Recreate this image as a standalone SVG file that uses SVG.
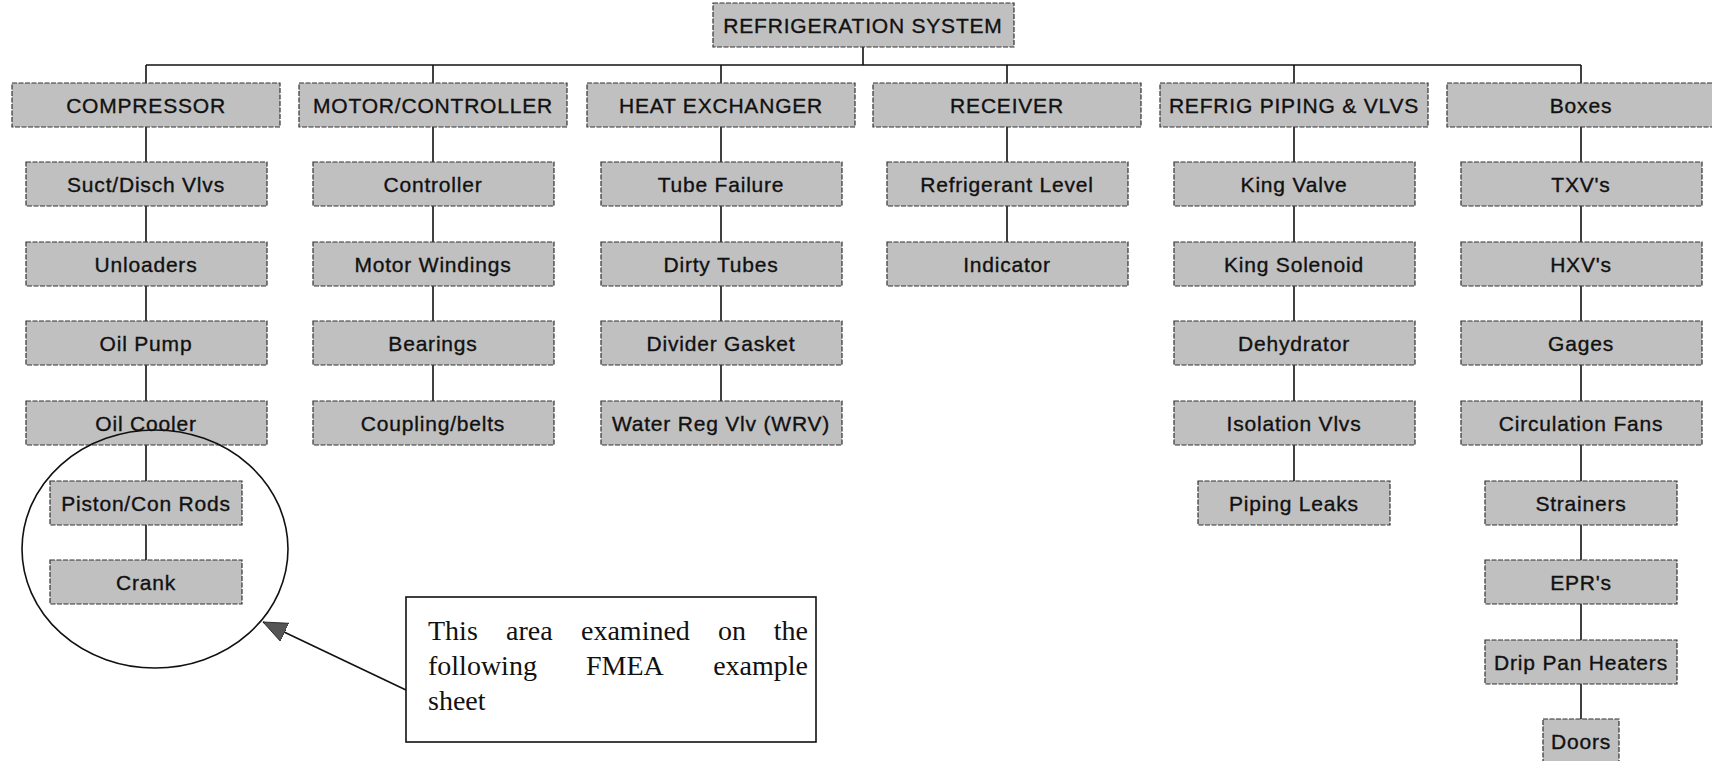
<svg xmlns="http://www.w3.org/2000/svg" width="1712" height="761" viewBox="0 0 1712 761">
  <defs>
    <style>
      .box { fill: #c0c0c0; stroke: #333; stroke-width: 1.2; stroke-dasharray: 5 1.5; }
      .lbl { font-family: "Liberation Sans", Arial, sans-serif; font-size: 21px; letter-spacing: 0.8px; fill: #111; stroke: #111; stroke-width: 0.35; text-anchor: middle; }
      .wire { stroke: #111; stroke-width: 1.6; fill: none; }
      .note { font-family: "Liberation Serif", "Times New Roman", serif; font-size: 28px; fill: #111; }
      .end { text-anchor: end; }
    </style>
    <marker id="tri" markerUnits="userSpaceOnUse" markerWidth="26" markerHeight="22" refX="24" refY="10" orient="auto">
      <path d="M0,0 L24,10 L0,20 Z" fill="#555" stroke="#222" stroke-width="0.8"/>
    </marker>
  </defs>
  <rect width="1712" height="761" fill="#fff"/>

  <!-- tree connectors -->
  <g id="connectors" class="wire">
    <line x1="863" y1="47" x2="863" y2="65"/>
    <line x1="146" y1="65" x2="1581" y2="65"/>
    <line x1="146" y1="65" x2="146" y2="83"/>
    <line x1="433" y1="65" x2="433" y2="83"/>
    <line x1="721" y1="65" x2="721" y2="83"/>
    <line x1="1007" y1="65" x2="1007" y2="83"/>
    <line x1="1294" y1="65" x2="1294" y2="83"/>
    <line x1="1581" y1="65" x2="1581" y2="83"/>
    <!-- compressor column -->
    <line x1="146" y1="127" x2="146" y2="481"/>
    <line x1="146" y1="525" x2="146" y2="560"/>
    <!-- motor column -->
    <line x1="433" y1="127" x2="433" y2="401"/>
    <!-- heat exchanger column -->
    <line x1="721" y1="127" x2="721" y2="401"/>
    <!-- receiver column -->
    <line x1="1007" y1="127" x2="1007" y2="242"/>
    <!-- piping column -->
    <line x1="1294" y1="127" x2="1294" y2="481"/>
    <!-- boxes column -->
    <line x1="1581" y1="127" x2="1581" y2="719"/>
  </g>

  <!-- root -->
  <g id="n-root">
    <rect class="box" x="713" y="3" width="301" height="44"/>
    <text class="lbl" x="863" y="32.5">REFRIGERATION SYSTEM</text>
  </g>

  <!-- level 1 -->
  <g id="n-compressor"><rect class="box" x="12" y="83" width="268" height="44"/><text class="lbl" x="146" y="112.5">COMPRESSOR</text></g>
  <g id="n-motor"><rect class="box" x="299" y="83" width="268" height="44"/><text class="lbl" x="433" y="112.5">MOTOR/CONTROLLER</text></g>
  <g id="n-heat"><rect class="box" x="587" y="83" width="268" height="44"/><text class="lbl" x="721" y="112.5">HEAT EXCHANGER</text></g>
  <g id="n-receiver"><rect class="box" x="873" y="83" width="268" height="44"/><text class="lbl" x="1007" y="112.5">RECEIVER</text></g>
  <g id="n-piping"><rect class="box" x="1160" y="83" width="268" height="44"/><text class="lbl" x="1294" y="112.5">REFRIG PIPING &amp; VLVS</text></g>
  <g id="n-boxes"><rect class="box" x="1447" y="83" width="268" height="44"/><text class="lbl" x="1581" y="112.5">Boxes</text></g>

  <!-- compressor items -->
  <g id="n-suct"><rect class="box" x="26" y="162" width="241" height="44"/><text class="lbl" x="146" y="191.5">Suct/Disch Vlvs</text></g>
  <g id="n-unloaders"><rect class="box" x="26" y="242" width="241" height="44"/><text class="lbl" x="146" y="271.5">Unloaders</text></g>
  <g id="n-oilpump"><rect class="box" x="26" y="321" width="241" height="44"/><text class="lbl" x="146" y="350.5">Oil Pump</text></g>
  <g id="n-oilcooler"><rect class="box" x="26" y="401" width="241" height="44"/><text class="lbl" x="146" y="430.5">Oil Cooler</text></g>
  <g id="n-piston"><rect class="box" x="50" y="481" width="192" height="44"/><text class="lbl" x="146" y="510.5">Piston/Con Rods</text></g>
  <g id="n-crank"><rect class="box" x="50" y="560" width="192" height="44"/><text class="lbl" x="146" y="589.5">Crank</text></g>

  <!-- motor items -->
  <g id="n-controller"><rect class="box" x="313" y="162" width="241" height="44"/><text class="lbl" x="433" y="191.5">Controller</text></g>
  <g id="n-windings"><rect class="box" x="313" y="242" width="241" height="44"/><text class="lbl" x="433" y="271.5">Motor Windings</text></g>
  <g id="n-bearings"><rect class="box" x="313" y="321" width="241" height="44"/><text class="lbl" x="433" y="350.5">Bearings</text></g>
  <g id="n-coupling"><rect class="box" x="313" y="401" width="241" height="44"/><text class="lbl" x="433" y="430.5">Coupling/belts</text></g>

  <!-- heat exchanger items -->
  <g id="n-tube"><rect class="box" x="601" y="162" width="241" height="44"/><text class="lbl" x="721" y="191.5">Tube Failure</text></g>
  <g id="n-dirty"><rect class="box" x="601" y="242" width="241" height="44"/><text class="lbl" x="721" y="271.5">Dirty Tubes</text></g>
  <g id="n-gasket"><rect class="box" x="601" y="321" width="241" height="44"/><text class="lbl" x="721" y="350.5">Divider Gasket</text></g>
  <g id="n-wrv"><rect class="box" x="601" y="401" width="241" height="44"/><text class="lbl" x="721" y="430.5">Water Reg Vlv (WRV)</text></g>

  <!-- receiver items -->
  <g id="n-level"><rect class="box" x="887" y="162" width="241" height="44"/><text class="lbl" x="1007" y="191.5">Refrigerant Level</text></g>
  <g id="n-indicator"><rect class="box" x="887" y="242" width="241" height="44"/><text class="lbl" x="1007" y="271.5">Indicator</text></g>

  <!-- piping items -->
  <g id="n-kingvalve"><rect class="box" x="1174" y="162" width="241" height="44"/><text class="lbl" x="1294" y="191.5">King Valve</text></g>
  <g id="n-kingsol"><rect class="box" x="1174" y="242" width="241" height="44"/><text class="lbl" x="1294" y="271.5">King Solenoid</text></g>
  <g id="n-dehydrator"><rect class="box" x="1174" y="321" width="241" height="44"/><text class="lbl" x="1294" y="350.5">Dehydrator</text></g>
  <g id="n-isolation"><rect class="box" x="1174" y="401" width="241" height="44"/><text class="lbl" x="1294" y="430.5">Isolation Vlvs</text></g>
  <g id="n-leaks"><rect class="box" x="1198" y="481" width="192" height="44"/><text class="lbl" x="1294" y="510.5">Piping Leaks</text></g>

  <!-- boxes items -->
  <g id="n-txv"><rect class="box" x="1461" y="162" width="241" height="44"/><text class="lbl" x="1581" y="191.5">TXV's</text></g>
  <g id="n-hxv"><rect class="box" x="1461" y="242" width="241" height="44"/><text class="lbl" x="1581" y="271.5">HXV's</text></g>
  <g id="n-gages"><rect class="box" x="1461" y="321" width="241" height="44"/><text class="lbl" x="1581" y="350.5">Gages</text></g>
  <g id="n-fans"><rect class="box" x="1461" y="401" width="241" height="44"/><text class="lbl" x="1581" y="430.5">Circulation Fans</text></g>
  <g id="n-strainers"><rect class="box" x="1485" y="481" width="192" height="44"/><text class="lbl" x="1581" y="510.5">Strainers</text></g>
  <g id="n-epr"><rect class="box" x="1485" y="560" width="192" height="44"/><text class="lbl" x="1581" y="589.5">EPR's</text></g>
  <g id="n-drip"><rect class="box" x="1485" y="640" width="192" height="44"/><text class="lbl" x="1581" y="669.5">Drip Pan Heaters</text></g>
  <g id="n-doors"><rect class="box" x="1543" y="719" width="76" height="44"/><text class="lbl" x="1581" y="748.5">Doors</text></g>

  <!-- highlight ring around the crank assembly -->
  <g id="highlight">
    <ellipse cx="155" cy="549" rx="133" ry="119" fill="none" stroke="#111" stroke-width="1.6"/>
  </g>

  <!-- callout note with pointer -->
  <g id="callout">
    <line class="wire" x1="406" y1="690" x2="263" y2="622" marker-end="url(#tri)"/>
    <rect x="406" y="597" width="410" height="145" fill="#fff" stroke="#111" stroke-width="1.6"/>
    <text class="note" y="640">
      <tspan x="428">This</tspan><tspan x="506">area</tspan><tspan x="581">examined</tspan><tspan x="718">on</tspan><tspan class="end" x="808">the</tspan>
    </text>
    <text class="note" y="675">
      <tspan x="428">following</tspan><tspan x="586">FMEA</tspan><tspan class="end" x="808">example</tspan>
    </text>
    <text class="note" x="428" y="710">sheet</text>
  </g>
</svg>
